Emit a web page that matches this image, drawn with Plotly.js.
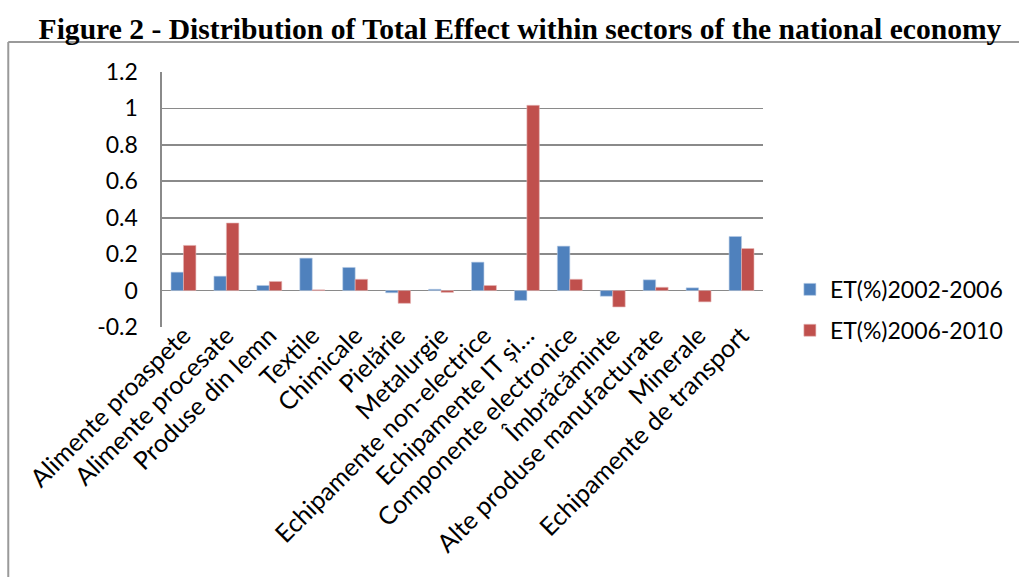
<!DOCTYPE html>
<html><head><meta charset="utf-8">
<script src="https://cdn.plot.ly/plotly-3.0.1.min.js"></script>
<style>html,body{margin:0;padding:0;background:#fff}#chart{width:1019px;height:577px}</style>
</head><body><div id="chart"></div>
<script>
const categories = ['Alimente proaspete','Alimente procesate','Produse din lemn','Textile','Chimicale','Pielărie','Metalurgie','Echipamente non-electrice','Echipamente IT și…','Componente electronice','Îmbrăcăminte','Alte produse manufacturate','Minerale','Echipamente de transport'];
const et2002_2006 = [0.101, 0.079, 0.028, 0.178, 0.127, -0.012, 0.007, 0.156, -0.054, 0.244, -0.031, 0.059, 0.015, 0.297];
const et2006_2010 = [0.248, 0.371, 0.050, 0.004, 0.062, -0.070, -0.010, 0.028, 1.017, 0.062, -0.090, 0.018, -0.062, 0.231];
const seriesNames = ['ET(%)2002-2006','ET(%)2006-2010'];
const yTickVals = [-0.2, 0, 0.2, 0.4, 0.6, 0.8, 1, 1.2];
const yTickText = ['-0.2','0','0.2','0.4','0.6','0.8','1','1.2'];
const titleText = 'Figure 2 - Distribution of Total Effect within sectors of the national economy';

const FONT = 'Lato, "Open Sans", sans-serif';
const traces = [
  {type:'bar', x:categories, y:et2002_2006, name:seriesNames[0], legendgroup:'a',
   marker:{color:'#4F81BD', line:{color:'#b9cde5', width:0.6}}},
  {type:'bar', x:categories, y:et2006_2010, name:seriesNames[1], legendgroup:'b',
   marker:{color:'#C0504D', line:{color:'#e6b9b8', width:0.6}}}
];
const layout = {
  width:1019, height:577,
  margin:{l:162, r:255, t:72, b:250},
  paper_bgcolor:'#fff', plot_bgcolor:'#fff',
  font:{family:FONT, size:22, color:'#000'},
  title:{text:'<b>'+titleText+'</b>', font:{family:'"Liberation Serif", "Times New Roman", serif', size:29.6, color:'#000'},
         x:0.5103, xanchor:'center', xref:'container', y:0.95, yanchor:'middle', yref:'container'},
  barmode:'group', bargap:0.42, bargroupgap:0,
  xaxis:{type:'category', tickangle:-45, showgrid:false, showline:false, ticks:'', zeroline:false,
         ticklabelstandoff:-12, tickfont:{family:FONT, size:25, color:'#000'}},
  yaxis:{range:[-0.2,1.2], tickvals:yTickVals, ticktext:yTickText, showgrid:true, gridcolor:'#8a8a8a', gridwidth:1.6,
         zeroline:true, zerolinecolor:'#8a8a8a', zerolinewidth:1.6, showline:true, linecolor:'#8a8a8a', linewidth:1.6,
         ticks:'', ticklabelstandoff:18, tickfont:{family:FONT, size:23, color:'#000'}},
  showlegend:true,
  legend:{x:1.043, xanchor:'left', y:0.067, yanchor:'middle', traceorder:'grouped', tracegroupgap:8,
          font:{family:FONT, size:23, color:'#000'}, bgcolor:'rgba(0,0,0,0)'},
  shapes:[
    {type:'line', xref:'paper', yref:'paper', x0:-0.2558, x1:1.5, y0:1.1176, y1:1.1176, line:{color:'#9a9a9a', width:2}},
    {type:'line', xref:'paper', yref:'paper', x0:-0.2558, x1:-0.2558, y0:1.1176, y1:-1.2, line:{color:'#9a9a9a', width:2}}
  ]
};
Plotly.newPlot('chart', traces, layout, {displayModeBar:false, staticPlot:true});
</script></body></html>
